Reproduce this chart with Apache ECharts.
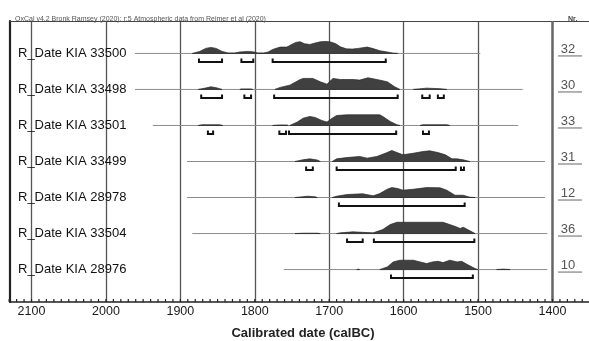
<!DOCTYPE html>
<html>
<head>
<meta charset="utf-8">
<script src="https://cdn.jsdelivr.net/npm/echarts@6/dist/echarts.min.js"></script>
<style>
  html, body { margin: 0; padding: 0; background: #fff; }
  #chart { width: 589px; height: 341px; }
</style>
</head>
<body>
<div id="chart"></div>
<script>
// samples, top to bottom
var LABELS = [
  'R_Date KIA 33500', 'R_Date KIA 33498', 'R_Date KIA 33501', 'R_Date KIA 33499',
  'R_Date KIA 28978', 'R_Date KIA 33504', 'R_Date KIA 28976'
];
var NR = [32, 30, 33, 31, 12, 36, 10];

// extent of the thin line under each distribution (calBC)
var LINE_SPANS = [
  [1961, 1497], [1961, 1440], [1937, 1446], [1891, 1410],
  [1891, 1410], [1884, 1407], [1761, 1407]
];

// 95.4% ranges (calBC)
var RANGES = [
  [[1875, 1844], [1818, 1802], [1776, 1624]],
  [[1872, 1844], [1814, 1805], [1774, 1608], [1575, 1565], [1554, 1546]],
  [[1863, 1856], [1767, 1758], [1754, 1610], [1574, 1566]],
  [[1731, 1722], [1690, 1530], [1523, 1519]],
  [[1687, 1518]],
  [[1676, 1655], [1640, 1505]],
  [[1617, 1507]]
];

// relative probability [year, p], one list per piece of the curve
var PROFILES = [
  [
    [[1884, 0], [1874, 0.17], [1866, 0.42], [1859, 0.5], [1852, 0.42], [1844, 0.17], [1836, 0.04],
     [1827, 0.04], [1820, 0.12], [1809, 0.17], [1801, 0.12], [1796, 0.04], [1788, 0.04], [1782, 0.12],
     [1776, 0.33], [1766, 0.53], [1757, 0.53], [1745, 0.92], [1739, 0.97], [1733, 0.8], [1726, 0.75],
     [1720, 0.85], [1712, 0.97], [1704, 1.0], [1698, 0.95], [1691, 0.8], [1685, 0.55], [1677, 0.38],
     [1669, 0.36], [1661, 0.42], [1649, 0.53], [1641, 0.4], [1632, 0.22], [1622, 0.12], [1614, 0.02], [1608, 0]]
  ],
  [
    [[1876, 0], [1866, 0.12], [1859, 0.22], [1852, 0.15], [1844, 0]],
    [[1820, 0], [1818, 0.04], [1805, 0.04], [1803, 0]],
    [[1773, 0], [1766, 0.17], [1753, 0.36], [1739, 0.83], [1735, 0.92], [1722, 0.92], [1712, 0.64],
     [1703, 0.44], [1695, 0.92], [1685, 0.83], [1668, 0.83], [1659, 0.78], [1648, 0.97], [1636, 0.83],
     [1622, 0.64], [1612, 0.22], [1605, 0]],
    [[1587, 0], [1569, 0.11], [1551, 0.06], [1542, 0]]
  ],
  [
    [[1876, 0], [1871, 0.06], [1847, 0.06], [1843, 0]],
    [[1776, 0], [1767, 0.04], [1757, 0.04], [1755, 0]],
    [[1753, 0], [1743, 0.28], [1735, 0.61], [1726, 0.75], [1719, 0.67], [1710, 0.42], [1703, 0.28],
     [1696, 0.61], [1690, 0.83], [1676, 0.89], [1632, 0.89], [1628, 0.75], [1618, 0.33], [1609, 0.06], [1605, 0]],
    [[1578, 0], [1574, 0.06], [1542, 0.06], [1538, 0]]
  ],
  [
    [[1746, 0], [1735, 0.15], [1726, 0.22], [1716, 0.12], [1712, 0]],
    [[1696, 0], [1690, 0.22], [1676, 0.33], [1659, 0.42], [1649, 0.28], [1636, 0.42], [1622, 0.75],
     [1616, 0.92], [1609, 0.75], [1601, 0.56], [1587, 0.69], [1574, 0.83], [1565, 0.89], [1554, 0.75],
     [1544, 0.56], [1535, 0.22], [1528, 0.22], [1520, 0.14], [1511, 0]]
  ],
  [
    [[1746, 0], [1735, 0.07], [1729, 0.11], [1719, 0.06], [1716, 0]],
    [[1696, 0], [1690, 0.11], [1676, 0.25], [1655, 0.31], [1641, 0.14], [1632, 0.33], [1622, 0.69],
     [1616, 0.83], [1608, 0.75], [1601, 0.61], [1587, 0.69], [1569, 0.83], [1551, 0.81], [1542, 0.61],
     [1531, 0.19], [1520, 0.19], [1511, 0.03], [1504, 0]]
  ],
  [
    [[1746, 0], [1735, 0.03], [1716, 0.03], [1712, 0]],
    [[1690, 0], [1685, 0.06], [1668, 0.14], [1655, 0.1], [1641, 0.06], [1628, 0.33], [1618, 0.75],
     [1609, 0.94], [1587, 0.94], [1547, 0.94], [1538, 0.75], [1528, 0.53], [1524, 0.42], [1520, 0.53],
     [1514, 0.33], [1504, 0]]
  ],
  [
    [[1663, 0], [1661, 0.04], [1659, 0]],
    [[1632, 0], [1622, 0.22], [1614, 0.64], [1605, 0.78], [1587, 0.78], [1578, 0.64], [1569, 0.5],
     [1561, 0.64], [1554, 0.69], [1547, 0.58], [1538, 0.78], [1528, 0.64], [1522, 0.69], [1515, 0.44],
     [1504, 0.08], [1500, 0]],
    [[1475, 0], [1466, 0.04], [1457, 0]]
  ]
];

var HEADER = 'OxCal v4.2 Bronk Ramsey (2020); r:5 Atmospheric data from Reimer et al (2020)';
var FONT = "'Liberation Sans', Arial, sans-serif";
var PEAK = 12; // px for p = 1

function renderRow(params, api) {
  var i = api.value(1);
  var a = api.coord([api.value(0), i]);
  var b = api.coord([api.value(2), i]);
  var y = a[1];
  var kids = [];

  kids.push({ type: 'line', shape: { x1: a[0], y1: y, x2: b[0], y2: y },
    style: { stroke: '#8c8c8c', lineWidth: 1 } });

  PROFILES[i].forEach(function (seg) {
    var pts = seg.map(function (p) {
      var c = api.coord([p[0], i]);
      return [c[0], c[1] - p[1] * PEAK];
    });
    kids.push({ type: 'polygon', shape: { points: pts },
      style: { fill: '#404040', stroke: '#262626', lineWidth: 0.7 } });
  });

  RANGES[i].forEach(function (r) {
    var x1 = api.coord([r[0], i])[0];
    var x2 = api.coord([r[1], i])[0];
    var yb = y + 8.5;
    kids.push({ type: 'polyline',
      shape: { points: [[x1, yb - 3.5], [x1, yb], [x2, yb], [x2, yb - 3.5]] },
      style: { stroke: '#111', lineWidth: 2, fill: null } });
  });

  kids.push({ type: 'text', style: { text: LABELS[i], x: 18, y: y, verticalAlign: 'middle',
    font: '13px ' + FONT, fill: '#111' } });

  kids.push({ type: 'text', style: { text: String(NR[i]), x: 568, y: y - 4.5, align: 'center',
    verticalAlign: 'middle', font: '13px ' + FONT, fill: '#555' } });
  kids.push({ type: 'line', shape: { x1: 558, y1: y + 2.5, x2: 582, y2: y + 2.5 },
    style: { stroke: '#8a8a8a', lineWidth: 1.3 } });

  if (i === 0) {
    var t = api.coord([1400, -0.9]);
    var btm = api.coord([1400, 6.9]);
    kids.push({ type: 'line', shape: { x1: t[0], y1: t[1], x2: btm[0], y2: btm[1] },
      style: { stroke: '#666', lineWidth: 2.4 } });
    // 10-year ticks along the bottom axis
    for (var yr = 1350; yr <= 2130; yr += 10) {
      var p = api.coord([yr, 6.9]);
      kids.push({ type: 'line', shape: { x1: p[0], y1: p[1], x2: p[0], y2: p[1] - 3 },
        style: { stroke: '#222', lineWidth: 1.2 } });
    }
  }
  return { type: 'group', children: kids };
}

var myChart = echarts.init(document.getElementById('chart'));
myChart.setOption({
  animation: false,
  title: [{
    text: HEADER, left: 10, top: 11,
    textStyle: { fontSize: 7, fontWeight: 'normal', color: '#555', fontFamily: FONT }
  }, {
    text: 'Nr.', left: 563, top: 11,
    textStyle: { fontSize: 7, fontWeight: 'bold', color: '#444', fontFamily: FONT }
  }],
  grid: [
    { left: -42.9, right: -37.9, top: 21, bottom: 39, outerBoundsMode: 'none' },
    { left: 10, right: 0, top: 21, bottom: 39, outerBoundsMode: 'none' }
  ],
  xAxis: [{
    gridIndex: 0,
    type: 'value',
    inverse: true,
    min: 1300,
    max: 2200,
    interval: 100,
    axisLine: { show: false, onZero: false },
    axisTick: { show: false },
    axisLabel: {
      fontSize: 12.5, color: '#1a1a1a', margin: 3, fontFamily: FONT,
      formatter: function (v) { return String(v); }
    },
    splitLine: { show: true, lineStyle: { color: '#555', width: 1.3 } }
  }, {
    gridIndex: 1,
    type: 'value',
    min: 0, max: 1,
    axisLine: { show: true, onZero: false, lineStyle: { color: '#222', width: 1.5 } },
    axisTick: { show: false },
    axisLabel: { show: false },
    splitLine: { show: false },
    name: 'Calibrated date (calBC)',
    nameLocation: 'middle',
    nameGap: 25,
    nameTextStyle: { fontSize: 13, fontWeight: 'bold', color: '#222', fontFamily: FONT, padding: [0, 0, 0, 7] }
  }, {
    gridIndex: 1,
    type: 'value',
    position: 'top',
    min: 0, max: 1,
    axisLine: { show: true, onZero: false, lineStyle: { color: '#444', width: 1.2 } },
    axisTick: { show: false },
    axisLabel: { show: false },
    splitLine: { show: false }
  }],
  yAxis: [{
    gridIndex: 0,
    type: 'value',
    min: -0.9,
    max: 6.9,
    inverse: true,
    show: false
  }, {
    gridIndex: 1,
    type: 'value',
    min: 0, max: 1,
    axisLine: { show: true, onZero: false, lineStyle: { color: '#222', width: 2.2 } },
    axisTick: { show: false },
    axisLabel: { show: false },
    splitLine: { show: false }
  }],
  series: [{
    type: 'custom',
    xAxisIndex: 0,
    yAxisIndex: 0,
    encode: { x: 0, y: 1 },
    renderItem: renderRow,
    data: LABELS.map(function (name, i) {
      return { name: name, value: [LINE_SPANS[i][0], i, LINE_SPANS[i][1]] };
    })
  }]
});
</script>
</body>
</html>
